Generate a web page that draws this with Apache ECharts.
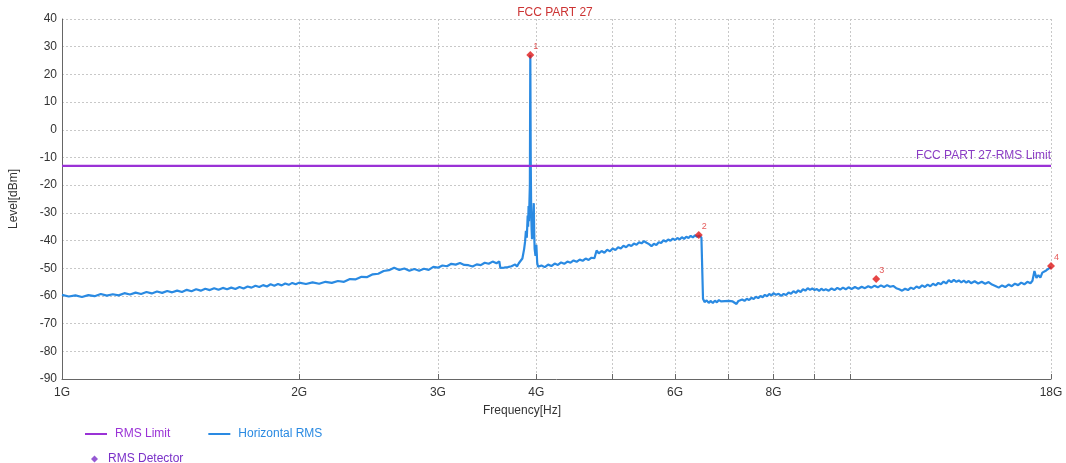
<!DOCTYPE html>
<html><head><meta charset="utf-8">
<script src="https://cdn.jsdelivr.net/npm/echarts@6/dist/echarts.min.js"></script>
<style>html,body{margin:0;padding:0;background:#fff}#c{width:1066px;height:463px}</style>
</head><body><div id="c"></div>
<script>
// ---- data ----
const chartTitle = 'FCC PART 27';
const limitLabel = 'FCC PART 27-RMS Limit';
const xTickFreqsGHz = [1, 2, 3, 4, 5, 6, 7, 8, 9, 10, 18];
const xLabelFreqsGHz = [1, 2, 3, 4, 6, 8, 18];
const yMin = -90, yMax = 40, yStep = 10;
const limitFreqGHz = [1, 18];
const limitLevel = [-13, -13];
// [frequency GHz, level dBm]
const traceHorizontalRMS = [
 [1.00,-59.6],[1.02,-60.2],[1.04,-59.8],[1.06,-60.4],[1.08,-59.7],[1.10,-60.1],[1.12,-59.3],[1.14,-59.9],[1.16,-59.4],[1.18,-59.8],
 [1.20,-59.0],[1.22,-59.5],[1.24,-58.8],[1.26,-59.3],[1.28,-58.6],[1.30,-59.1],[1.32,-58.4],[1.34,-58.9],[1.36,-58.2],[1.38,-58.7],
 [1.40,-58.1],[1.42,-58.6],[1.44,-57.8],[1.46,-58.3],[1.48,-57.6],[1.50,-58.1],[1.52,-57.4],[1.54,-57.9],[1.56,-57.2],[1.58,-57.8],
 [1.60,-57.1],[1.62,-57.6],[1.64,-57.0],[1.66,-57.5],[1.68,-56.8],[1.70,-57.3],[1.72,-56.6],[1.74,-57.0],[1.76,-56.3],[1.78,-56.8],
 [1.80,-56.1],[1.82,-56.6],[1.84,-55.8],[1.86,-56.3],[1.88,-55.7],[1.90,-56.2],[1.92,-55.5],[1.94,-56.0],[1.96,-55.3],[1.98,-55.8],
 [2.00,-55.2],[2.04,-55.7],[2.08,-55.1],[2.12,-55.6],[2.16,-54.9],[2.20,-55.3],[2.24,-54.6],[2.28,-54.9],[2.32,-53.9],[2.36,-54.0],
 [2.40,-53.1],[2.44,-53.2],[2.48,-52.2],[2.52,-52.0],[2.56,-51.0],[2.60,-50.7],[2.64,-49.8],[2.68,-50.6],[2.72,-50.1],[2.76,-50.9],
 [2.80,-50.3],[2.84,-50.9],[2.88,-50.2],[2.92,-50.6],[2.96,-49.5],[3.00,-49.8],[3.04,-49.0],[3.08,-49.3],[3.12,-48.4],[3.16,-48.7],
 [3.20,-48.1],[3.24,-48.8],[3.28,-48.9],[3.32,-49.4],[3.36,-48.6],[3.40,-48.9],[3.44,-48.0],[3.48,-48.4],[3.52,-47.6],[3.56,-48.2],
 [3.59,-47.5],[3.60,-49.9],[3.62,-50.4],[3.64,-49.8],[3.66,-50.5],[3.68,-49.6],[3.70,-50.2],[3.72,-49.3],[3.74,-49.9],[3.76,-48.6],
 [3.78,-49.4],[3.80,-48.2],[3.82,-48.9],[3.84,-46.5],[3.86,-43.0],[3.87,-40.5],[3.88,-36.5],[3.89,-39.0],[3.90,-31.0],[3.905,-35.0],
 [3.91,-27.5],[3.915,-33.0],[3.92,-26.0],[3.925,-20.0],[3.93,27.0],[3.935,-11.5],[3.94,-30.0],[3.945,-36.0],[3.95,-39.5],[3.96,-34.0],
 [3.97,-26.5],[3.975,-37.0],[3.98,-43.0],[3.99,-45.5],[4.00,-41.5],[4.01,-48.0],[4.02,-49.5],
 [4.06,-49.0],[4.10,-49.6],[4.14,-48.7],[4.18,-49.2],[4.22,-48.3],[4.26,-48.8],[4.30,-47.9],[4.34,-48.4],[4.38,-47.6],[4.42,-48.0],
 [4.46,-47.2],[4.50,-47.7],[4.54,-46.9],[4.58,-47.3],[4.62,-46.5],[4.66,-47.0],[4.70,-46.2],[4.74,-46.4],[4.77,-43.6],[4.80,-44.6],
 [4.84,-43.8],[4.88,-44.4],[4.92,-43.3],[4.96,-43.9],[5.00,-42.9],[5.04,-43.4],[5.08,-42.4],[5.12,-42.9],[5.16,-41.9],[5.20,-42.4],
 [5.24,-41.5],[5.28,-42.0],[5.32,-41.1],[5.36,-41.5],[5.40,-40.6],[5.44,-41.0],[5.48,-40.2],[5.52,-40.8],[5.56,-41.3],[5.60,-42.0],
 [5.64,-41.2],[5.68,-41.6],[5.72,-40.6],[5.76,-40.9],[5.80,-39.9],[5.84,-40.4],[5.88,-39.6],[5.92,-40.1],[5.96,-39.3],[6.00,-39.8],
 [6.04,-39.1],[6.08,-39.6],[6.12,-38.8],[6.16,-39.4],[6.20,-38.6],[6.24,-39.1],[6.28,-38.3],[6.32,-38.9],[6.36,-38.1],[6.40,-38.7],
 [6.44,-38.2],[6.48,-38.9],[6.50,-38.5],[6.51,-61.0],
 [6.54,-62.2],[6.58,-61.6],[6.62,-62.5],[6.66,-61.8],[6.70,-62.6],[6.74,-61.7],[6.78,-62.3],[6.82,-61.5],[6.86,-62.0],[6.90,-61.3],
 [6.94,-61.9],[6.98,-61.2],[7.02,-61.8],[7.06,-61.3],[7.10,-62.0],[7.14,-61.6],[7.18,-62.9],[7.22,-61.8],[7.26,-62.1],[7.30,-61.3],
 [7.35,-61.8],[7.40,-61.0],[7.45,-61.5],[7.50,-60.7],[7.55,-61.1],[7.60,-60.3],[7.65,-60.8],[7.70,-60.0],[7.75,-60.5],[7.80,-59.6],
 [7.85,-60.1],[7.90,-59.3],[7.95,-59.8],[8.00,-59.0],[8.06,-59.6],[8.12,-59.2],[8.18,-60.0],[8.24,-59.3],[8.30,-59.7],[8.36,-58.8],
 [8.42,-59.2],[8.48,-58.3],[8.54,-58.9],[8.60,-58.0],[8.66,-58.6],[8.72,-57.6],[8.78,-58.1],[8.84,-57.2],[8.90,-57.8],[8.96,-57.3],
 [9.02,-57.9],[9.08,-57.5],[9.14,-58.2],[9.20,-57.4],[9.26,-58.0],[9.32,-57.6],[9.40,-58.1],[9.48,-57.3],[9.56,-57.9],[9.64,-57.1],
 [9.72,-57.7],[9.80,-57.0],[9.88,-57.6],[9.96,-56.9],[10.05,-57.5],[10.15,-56.8],[10.25,-57.4],[10.35,-56.7],[10.45,-57.2],[10.55,-56.5],
 [10.65,-57.0],[10.75,-56.3],[10.85,-56.9],[10.95,-56.2],[11.05,-56.8],[11.15,-56.1],[11.25,-56.7],[11.35,-56.4],[11.45,-57.2],[11.55,-57.6],
 [11.65,-58.1],[11.75,-57.4],[11.85,-57.9],[11.95,-57.0],[12.05,-57.5],[12.15,-56.6],[12.25,-57.1],[12.35,-56.2],[12.45,-56.8],[12.55,-55.9],
 [12.65,-56.5],[12.75,-55.6],[12.85,-56.2],[12.95,-55.3],[13.05,-55.8],[13.15,-54.8],[13.25,-55.5],[13.35,-54.3],[13.45,-55.0],[13.55,-54.2],
 [13.65,-54.9],[13.75,-54.4],[13.85,-55.1],[13.95,-54.5],[14.05,-55.2],[14.15,-54.6],[14.25,-55.4],[14.40,-54.7],[14.55,-55.5],[14.70,-54.9],
 [14.85,-55.6],[15.00,-55.0],[15.15,-55.9],[15.30,-56.4],[15.45,-57.0],[15.60,-56.2],[15.75,-56.8],[15.90,-55.9],[16.05,-56.5],[16.20,-55.6],
 [16.35,-56.1],[16.50,-55.2],[16.65,-55.8],[16.80,-54.9],[16.95,-55.4],[17.05,-54.5],[17.15,-51.0],[17.25,-53.5],[17.35,-52.5],[17.45,-53.4],
 [17.55,-51.6],[17.65,-52.3],[17.75,-50.8],[17.85,-51.5],[17.95,-49.8],[18.00,-49.5]
];
const markerFreqGHz = [3.93, 6.43, 10.8, 18.0];
const markerLevel = [27.0, -38.0, -53.9, -49.2];
const markerNames = ['1', '2', '3', '4'];

// ---- chart ----
const lg = v => Math.log10(v);
const FONT = '"Liberation Sans", Arial, sans-serif';
const PURPLE = '#9a32d6';
const BLUE = '#2a8ae2';
const RED = '#e01818';

const chart = echarts.init(document.getElementById('c'), null, {renderer: 'canvas'});
chart.setOption({
  animation: false,
  backgroundColor: '#fff',
  textStyle: {fontFamily: FONT},
  grid: {left: 60, right: 15, top: 19, bottom: 84, containLabel: false},
  graphic: [
    {type: 'text', x: 555, y: 13, style: {text: chartTitle, fill: '#cc3333', font: '12px ' + FONT, textAlign: 'center', textVerticalAlign: 'middle'}},
    {type: 'text', x: 522, y: 411, style: {text: 'Frequency[Hz]', fill: '#333', font: '12px ' + FONT, textAlign: 'center', textVerticalAlign: 'middle'}}
  ],
  legend: [
    {left: 80, top: 423, itemGap: 38, itemWidth: 22, itemHeight: 2, icon: 'rect',
     textStyle: {fontSize: 12, fontFamily: FONT, padding: [0, 0, 0, 3]},
     data: [
       {name: 'RMS Limit', textStyle: {color: PURPLE}},
       {name: 'Horizontal RMS', textStyle: {color: BLUE}}
     ]},
    {left: 86, top: 448, itemWidth: 7, itemHeight: 7, icon: 'diamond',
     textStyle: {fontSize: 12, fontFamily: FONT, padding: [0, 0, 0, 5]},
     data: [{name: 'RMS Detector', itemStyle: {color: '#7a30c8'}, textStyle: {color: '#7a30c8'}}]}
  ],
  xAxis: {
    type: 'value', min: 0, max: lg(18),
    axisLine: {show: true, onZero: false, lineStyle: {color: '#666', width: 1}},
    axisTick: {show: true, inside: true, length: 5, customValues: xTickFreqsGHz.map(lg), lineStyle: {color: '#666'}},
    axisLabel: {customValues: xLabelFreqsGHz.map(lg), color: '#333', fontSize: 12, margin: 8,
      formatter: v => Math.round(Math.pow(10, v)) + 'G'},
    splitLine: {show: true, lineStyle: {color: '#c8c8c8', type: [2, 2], width: 1}}
  },
  yAxis: {
    type: 'value', min: yMin, max: yMax, interval: yStep,
    name: 'Level[dBm]', nameLocation: 'middle', nameGap: 42, nameRotate: 90,
    nameTextStyle: {color: '#333', fontSize: 12},
    axisLine: {show: true, lineStyle: {color: '#666', width: 1}},
    axisTick: {show: false},
    axisLabel: {color: '#333', fontSize: 12, margin: 5},
    splitLine: {show: true, lineStyle: {color: '#c8c8c8', type: [2, 2], width: 1}}
  },
  series: [
    {
      name: 'RMS Limit', type: 'line', showSymbol: false, symbol: 'none', z: 2,
      color: PURPLE,
      lineStyle: {color: PURPLE, width: 2},
      data: limitFreqGHz.map((f, i) => [lg(f), limitLevel[i]]),
      markLine: {
        silent: true, symbol: 'none',
        lineStyle: {color: PURPLE, width: 2, type: 'solid'},
        label: {show: true, position: 'insideEndTop', formatter: limitLabel, color: '#8a3cc4', fontSize: 12, distance: [0, 4]},
        data: [{yAxis: limitLevel[0]}]
      }
    },
    {
      name: 'Horizontal RMS', type: 'line', showSymbol: false, symbol: 'none', z: 3,
      color: BLUE,
      lineStyle: {color: BLUE, width: 2.2},
      data: traceHorizontalRMS.map(p => [lg(p[0]), p[1]])
    },
    {
      name: 'RMS Detector', type: 'scatter', symbol: 'diamond', symbolSize: 8, z: 4,
      itemStyle: {color: RED},
      label: {show: true, position: [7, -9], color: '#e03030', fontSize: 9,
        formatter: p => markerNames[p.dataIndex]},
      data: markerFreqGHz.map((f, i) => [lg(f), markerLevel[i]])
    }
  ]
});
</script></body></html>
